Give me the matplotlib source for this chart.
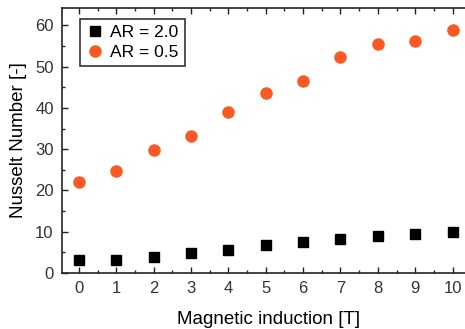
import matplotlib
matplotlib.use("Agg")
import matplotlib.pyplot as plt
import matplotlib.ticker as mticker

# Dados
induction = [0, 1, 2, 3, 4, 5, 6, 7, 8, 9, 10]
nu_ar20 = [3.2, 3.2, 3.9, 4.8, 5.6, 6.8, 7.6, 8.2, 9.0, 9.4, 9.9]
nu_ar05 = [22.1, 24.7, 29.8, 33.3, 39.1, 43.5, 46.5, 52.3, 55.5, 56.1, 58.8]

plt.rcParams.update({
    "font.family": ["Liberation Sans", "DejaVu Sans"],
    "font.size": 10,
})

fig = plt.figure(figsize=(4.65, 3.29), dpi=100)
ax = fig.add_axes([62 / 465, 56 / 329, 413 / 465, 265 / 329])

ax.plot(induction, nu_ar20, linestyle="none", marker="s", markersize=7,
        color="black", label="AR = 2.0")
ax.plot(induction, nu_ar05, linestyle="none", marker="o", markersize=8,
        color="#FA5A22", label="AR = 0.5")

ax.set_xlim(-0.45, 10.6)
ax.set_ylim(0, 64.2)
ax.xaxis.set_major_locator(mticker.MultipleLocator(1))
ax.xaxis.set_minor_locator(mticker.MultipleLocator(0.5))
ax.yaxis.set_major_locator(mticker.MultipleLocator(10))
ax.yaxis.set_minor_locator(mticker.MultipleLocator(5))
ax.tick_params(which="both", direction="in", top=True, right=False,
               width=1, colors="#222222", labelcolor="#333333")
ax.tick_params(which="major", length=4, labelsize=12, pad=6)
ax.tick_params(which="minor", length=2.5)
for s in ax.spines.values():
    s.set_linewidth(1.2)
    s.set_color("#222222")

ax.set_xlabel("Magnetic induction [T]", fontsize=13.5, labelpad=10.5)
ax.set_ylabel("Nusselt Number [-]", fontsize=13.5, labelpad=6)

leg = ax.legend(loc="upper left", fontsize=12.5, frameon=True, fancybox=False,
                handletextpad=0.4, borderpad=0.35, handlelength=1.0,
                labelspacing=0.3, bbox_to_anchor=(0.022, 0.992))
leg.get_frame().set_edgecolor("black")
leg.get_frame().set_linewidth(1.2)

fig.savefig("out.png", dpi=100)
